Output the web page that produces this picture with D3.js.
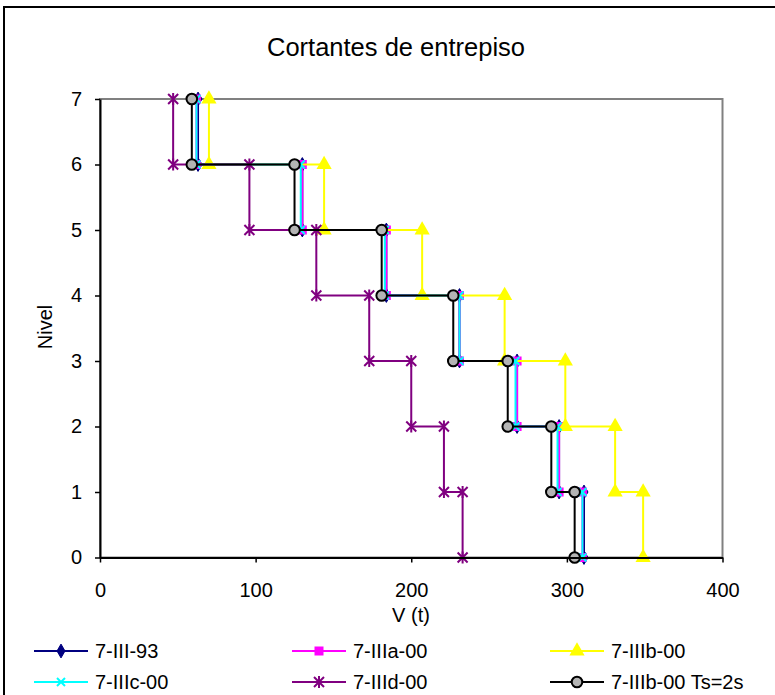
<!DOCTYPE html>
<html>
<head>
<meta charset="utf-8">
<script src="https://cdn.jsdelivr.net/npm/d3@7"></script>
<style>
  body { margin: 0; background: #fff; }
  text { font-family: "Liberation Sans", Arial, sans-serif; fill: #000; }
</style>
</head>
<body>
<script>
// story shear (t) for stories 7 down to 1
var stories = [7, 6, 5, 4, 3, 2, 1]
var v_III93 = [63, 130, 184, 231, 268, 295, 311]
var v_IIIa = [62, 130, 184, 231, 268, 295, 310]
var v_IIIb = [70, 144, 207, 260, 299, 331, 349]
var v_IIIc = [62, 129, 183, 231, 267, 294, 310]
var v_IIId = [47, 96, 139, 173, 200, 221, 233]
var v_Ts2 = [59, 125, 181, 227, 262, 290, 305]

var names = ["7-III-93", "7-IIIa-00", "7-IIIb-00", "7-IIIc-00", "7-IIId-00", "7-IIIb-00 Ts=2s"]
var xTicks = [0, 100, 200, 300, 400]
var yTicks = [0, 1, 2, 3, 4, 5, 6, 7]

var allValues = [v_III93, v_IIIa, v_IIIb, v_IIIc, v_IIId, v_Ts2]
var colors = ["#000080", "#ff00ff", "#ffff00", "#00ffff", "#800080", "#000000"]
var markers = ["diamond", "square", "triangle", "x", "star", "circle"]

//turn each story into two points so the line steps
function makeSteps(vals){
  var pts = []
  for(var i in stories){
    pts.push([vals[i], stories[i]])
    pts.push([vals[i], stories[i] - 1])
  }
  return pts
}

var W = 775, H = 695
var svg = d3.select("body").append("svg")
  .attr("width", W).attr("height", H)

// outer chart border
svg.append("rect")
  .attr("x", 4).attr("y", 7)
  .attr("width", 800).attr("height", 720)
  .attr("fill", "none").attr("stroke", "#000").attr("stroke-width", 2)

// "top" is taken by window.top, so use other names
var plotLeft = 100, plotRight = 722.5, plotTop = 99, plotBottom = 557.5

var xScale = d3.scaleLinear().domain([0, 400]).range([plotLeft, plotRight])
var yScale = d3.scaleLinear().domain([0, 7]).range([plotBottom, plotTop])

// plot area frame
svg.append("rect")
  .attr("x", plotLeft).attr("y", plotTop)
  .attr("width", plotRight - plotLeft).attr("height", plotBottom - plotTop)
  .attr("fill", "#fff").attr("stroke", "#808080").attr("stroke-width", 2)

// title
svg.append("text")
  .attr("x", 396).attr("y", 47)
  .attr("text-anchor", "middle").attr("dominant-baseline", "central")
  .style("font-size", "25.5px")
  .text("Cortantes de entrepiso")

function markerPath(type, g, color){
  if(type == "diamond"){
    g.append("path").attr("d", d3.symbol().type(d3.symbolDiamond).size(55)())
      .attr("fill", color).attr("stroke", color).attr("stroke-width", 1)
  }else if(type == "square"){
    g.append("rect").attr("x", -4.5).attr("y", -4.5).attr("width", 9).attr("height", 9)
      .attr("fill", color)
  }else if(type == "triangle"){
    g.append("path").attr("d", d3.symbol().type(d3.symbolTriangle).size(100)())
      .attr("fill", color)
  }else if(type == "x"){
    g.append("path").attr("d", "M-4,-4L4,4M-4,4L4,-4")
      .attr("stroke", color).attr("stroke-width", 2).attr("fill", "none")
  }else if(type == "star"){
    g.append("path").attr("d", "M-5,-5L5,5M-5,5L5,-5M0,-6L0,6")
      .attr("stroke", color).attr("stroke-width", 2).attr("fill", "none")
  }else if(type == "circle"){
    g.append("circle").attr("r", 5.3)
      .attr("fill", "#b4b4b4").attr("stroke", "#000").attr("stroke-width", 2)
  }
}

var line = d3.line()
  .x(function(d){ return xScale(d[0]) })
  .y(function(d){ return yScale(d[1]) })

var plot = svg.append("g")

for(var s = 0; s < allValues.length; s++){
  var pts = makeSteps(allValues[s])
  plot.append("path")
    .attr("d", line(pts))
    .attr("fill", "none")
    .attr("stroke", colors[s])
    .attr("stroke-width", 2)
  for(var p in pts){
    var g = plot.append("g")
      .attr("transform", "translate(" + xScale(pts[p][0]) + "," + yScale(pts[p][1]) + ")")
    markerPath(markers[s], g, colors[s])
  }
}

// axes
svg.append("g")
  .attr("transform", "translate(0," + plotBottom + ")")
  .call(d3.axisBottom(xScale).tickValues(xTicks).tickSize(5).tickPadding(20).tickSizeOuter(0))
svg.append("g")
  .attr("transform", "translate(" + plotLeft + ",0)")
  .call(d3.axisLeft(yScale).tickValues(yTicks).tickFormat(d3.format("d"))
    .tickSize(5).tickPadding(13).tickSizeOuter(0))

svg.selectAll(".domain").attr("stroke", "#000").attr("stroke-width", 2)
svg.selectAll(".tick line").attr("stroke", "#000").attr("stroke-width", 1.5)
svg.selectAll(".tick text")
  .style("font-size", "20px")
  .style("font-family", "Liberation Sans, Arial, sans-serif")
  .attr("fill", "#000")

// axis titles
svg.append("text")
  .attr("x", 411).attr("y", 615)
  .attr("text-anchor", "middle").attr("dominant-baseline", "central")
  .style("font-size", "20px")
  .text("V  (t)")
svg.append("text")
  .attr("transform", "translate(45,327)rotate(-90)")
  .attr("text-anchor", "middle").attr("dominant-baseline", "central")
  .style("font-size", "20px")
  .text("Nivel")

// legend
var legX = [34, 292, 550]
var legY = [651, 682]
for(var i = 0; i < names.length; i++){
  var lx = legX[i % 3], ly = legY[Math.floor(i / 3)]
  var lg = svg.append("g").attr("transform", "translate(" + lx + "," + ly + ")")
  lg.append("line").attr("x1", 0).attr("x2", 54).attr("y1", 0).attr("y2", 0)
    .attr("stroke", colors[i]).attr("stroke-width", 2)
  var mg = lg.append("g").attr("transform", "translate(27,0)")
  markerPath(markers[i], mg, colors[i])
  lg.append("text")
    .attr("x", 61).attr("y", 0)
    .attr("dominant-baseline", "central")
    .style("font-size", "20px")
    .text(names[i])
}
</script>
</body>
</html>
